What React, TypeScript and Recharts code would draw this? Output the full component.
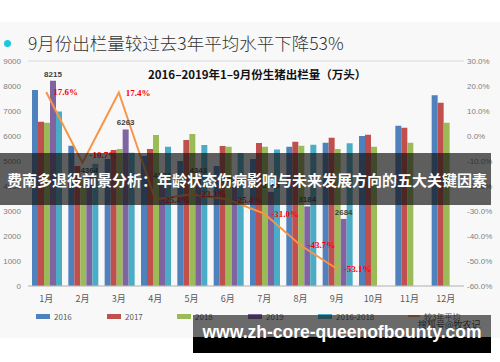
import { ComposedChart, Bar, Line, XAxis, YAxis, CartesianGrid, LabelList } from "recharts";

const months = ["1月", "2月", "3月", "4月", "5月", "6月", "7月", "8月", "9月", "10月", "11月", "12月"];
const y2016 = [7840, 5610, 5080, 5200, 5000, 4800, 5080, 5570, 5730, 6000, 6410, 7630];
const y2017 = [6570, 4800, 5440, 5480, 5840, 5600, 5720, 5770, 5930, 6050, 6330, 7330];
const y2018 = [6530, 4250, 5480, 6040, 6080, 5570, 5570, 5610, 5480, 5570, 5730, 6530];
const y2019 = [8215, 4364, 6263, 4174, 4343, 3983, 3765, 3184, 2684, null, null, null];
const avg3 = [6980, 4887, 5333, 5573, 5640, 5323, 5457, 5650, 5713, null, null, null];
const vsAvg = [17.6, -10.7, 17.4, -25.4, -23.3, -25.4, -31.0, -43.7, -53.1, null, null, null];

const leftTicks = [0, 1000, 2000, 3000, 4000, 5000, 6000, 7000, 8000, 9000];
const rightTicks = [-60, -50, -40, -30, -20, -10, 0, 10, 20, 30];

const legendItems = [
  { name: "2016", color: "#4F81BD" },
  { name: "2017", color: "#C0504D" },
  { name: "2018", color: "#9BBB59" },
  { name: "2019", color: "#8064A2" },
  { name: "2016-2018", color: "#4BACC6" },
  { name: "较3年平均", color: "#F79646", line: true },
];

const data = months.map((m, i) => ({
  month: m,
  y2016: y2016[i],
  y2017: y2017[i],
  y2018: y2018[i],
  y2019: y2019[i],
  avg3: avg3[i],
  vsAvg: vsAvg[i],
}));

const axisTick = { fill: "#7f7f7f", fontSize: 8, fontFamily: "Liberation Sans" };

function PctLabel(props: any) {
  const { x, y, value, index } = props;
  if (value == null) return null;
  const dy = index === 1 ? -8 : 0;
  return (
    <text x={x + 7} y={y + dy} dominantBaseline="central" fill="#ff0000" fontSize={9}
      fontWeight="bold" fontFamily="Liberation Serif">
      {`${value.toFixed(1)}%`}
    </text>
  );
}

export default function App() {
  return (
    <div style={{ position: "absolute", left: 0, top: 0, width: 500, height: 362, background: "#fff", overflow: "hidden" }}>
      {/* slide background */}
      <div style={{ position: "absolute", left: 0, top: 22, width: 500, height: 316, background: "#f8f8f8" }} />

      <div style={{ position: "absolute", left: 4, top: 40, width: 7, height: 7, borderRadius: "50%", background: "#1ec8dc" }} />
      <div style={{
        position: "absolute", left: 28, top: 31, fontSize: 17.5, color: "#333",
        fontFamily: "'Noto Sans CJK SC'", fontWeight: 300, lineHeight: "24px", whiteSpace: "nowrap",
      }}>
        9月份出栏量较过去3年平均水平下降53%
      </div>

      <div style={{ position: "absolute", left: 0, top: 0 }}>
        <ComposedChart width={500} height={362} data={data}
          margin={{ top: 61, right: 0, bottom: 56, left: 0 }}
          barCategoryGap="11%" barGap={0}>
          <CartesianGrid vertical={false} stroke="#d9d9d9" />
          <XAxis dataKey="month" tickLine={false} axisLine={{ stroke: "#bfbfbf" }} height={20}
            tick={{ fill: "#595959", fontSize: 9, fontFamily: "'Noto Sans CJK SC'" }} tickMargin={4} />
          <YAxis yAxisId="left" domain={[0, 9000]} ticks={leftTicks} width={28}
            axisLine={false} tickLine={false} tickSize={0} tickMargin={7} tick={axisTick} />
          <YAxis yAxisId="right" orientation="right" domain={[-60, 30]} ticks={rightTicks} width={36}
            axisLine={false} tickLine={false} tickSize={0} tickMargin={3} tick={{ ...axisTick, textAnchor: "start" }}
            tickFormatter={(v) => `${v.toFixed(1)}%`} />
          <Bar yAxisId="left" dataKey="y2016" fill="#4F81BD" isAnimationActive={false} />
          <Bar yAxisId="left" dataKey="y2017" fill="#C0504D" isAnimationActive={false} />
          <Bar yAxisId="left" dataKey="y2018" fill="#9BBB59" isAnimationActive={false} />
          <Bar yAxisId="left" dataKey="y2019" fill="#8064A2" isAnimationActive={false}>
            <LabelList dataKey="y2019" position="top" offset={4} fill="#404040" fontSize={8}
              fontWeight="bold" fontFamily="Liberation Sans" />
          </Bar>
          <Bar yAxisId="left" dataKey="avg3" fill="#4BACC6" isAnimationActive={false} />
          <Line yAxisId="right" dataKey="vsAvg" type="linear" stroke="#F79646" strokeWidth={2}
            dot={false} isAnimationActive={false}>
            <LabelList dataKey="vsAvg" content={PctLabel} />
          </Line>
        </ComposedChart>
      </div>

      <div style={{
        position: "absolute", left: 148, top: 65, fontSize: 11.5, fontWeight: "bold", color: "#111",
        fontFamily: "'Noto Sans CJK SC'", whiteSpace: "nowrap", lineHeight: "18px",
      }}>
        2016–2019年1–9月份生猪出栏量（万头）
      </div>

      {/* legend */}
      {legendItems.map((it, i) => {
        const left = [36, 107, 177, 248, 318, 408][i];
        return (
          <div key={it.name} style={{ position: "absolute", left, top: 310, height: 12, display: "flex", alignItems: "center" }}>
            <div style={{ width: it.line ? 12 : 14, height: it.line ? 2 : 5, background: it.color, marginRight: 4 }} />
            <span style={{ fontSize: 8, color: "#595959", fontFamily: "'Noto Sans CJK SC'", whiteSpace: "nowrap" }}>{it.name}</span>
          </div>
        );
      })}

      {/* overlay banner */}
      <div style={{
        position: "absolute", left: 0, top: 153, width: 491, height: 52, background: "rgba(20,20,20,0.68)",
        display: "flex", alignItems: "center",
      }}>
        <span style={{
          marginLeft: 7, color: "#fff", fontSize: 15, fontWeight: "bold",
          fontFamily: "'Noto Sans CJK SC'", whiteSpace: "nowrap", letterSpacing: 0,
        }}>
          费南多退役前景分析：年龄状态伤病影响与未来发展方向的五大关键因素
        </span>
      </div>

      <div style={{ position: "absolute", left: 193, top: 315, width: 298, height: 22, background: "rgba(20,20,20,0.62)" }} />
      <div style={{ position: "absolute", left: 193, top: 337, width: 298, height: 16, background: "#000" }} />
      <div style={{
        position: "absolute", left: 418, top: 318, fontSize: 9, color: "#222",
        fontFamily: "'Noto Sans CJK SC'", whiteSpace: "nowrap",
      }}>
        搜狐号@牧农记
      </div>
      <div style={{
        position: "absolute", left: 193, top: 320, width: 298, textAlign: "center", color: "#fff",
        fontSize: 17.5, fontWeight: "bold", fontFamily: "'Liberation Sans'", whiteSpace: "nowrap", lineHeight: "24px",
      }}>
        www.zh-core-queenofbounty.com
      </div>
    </div>
  );
}
